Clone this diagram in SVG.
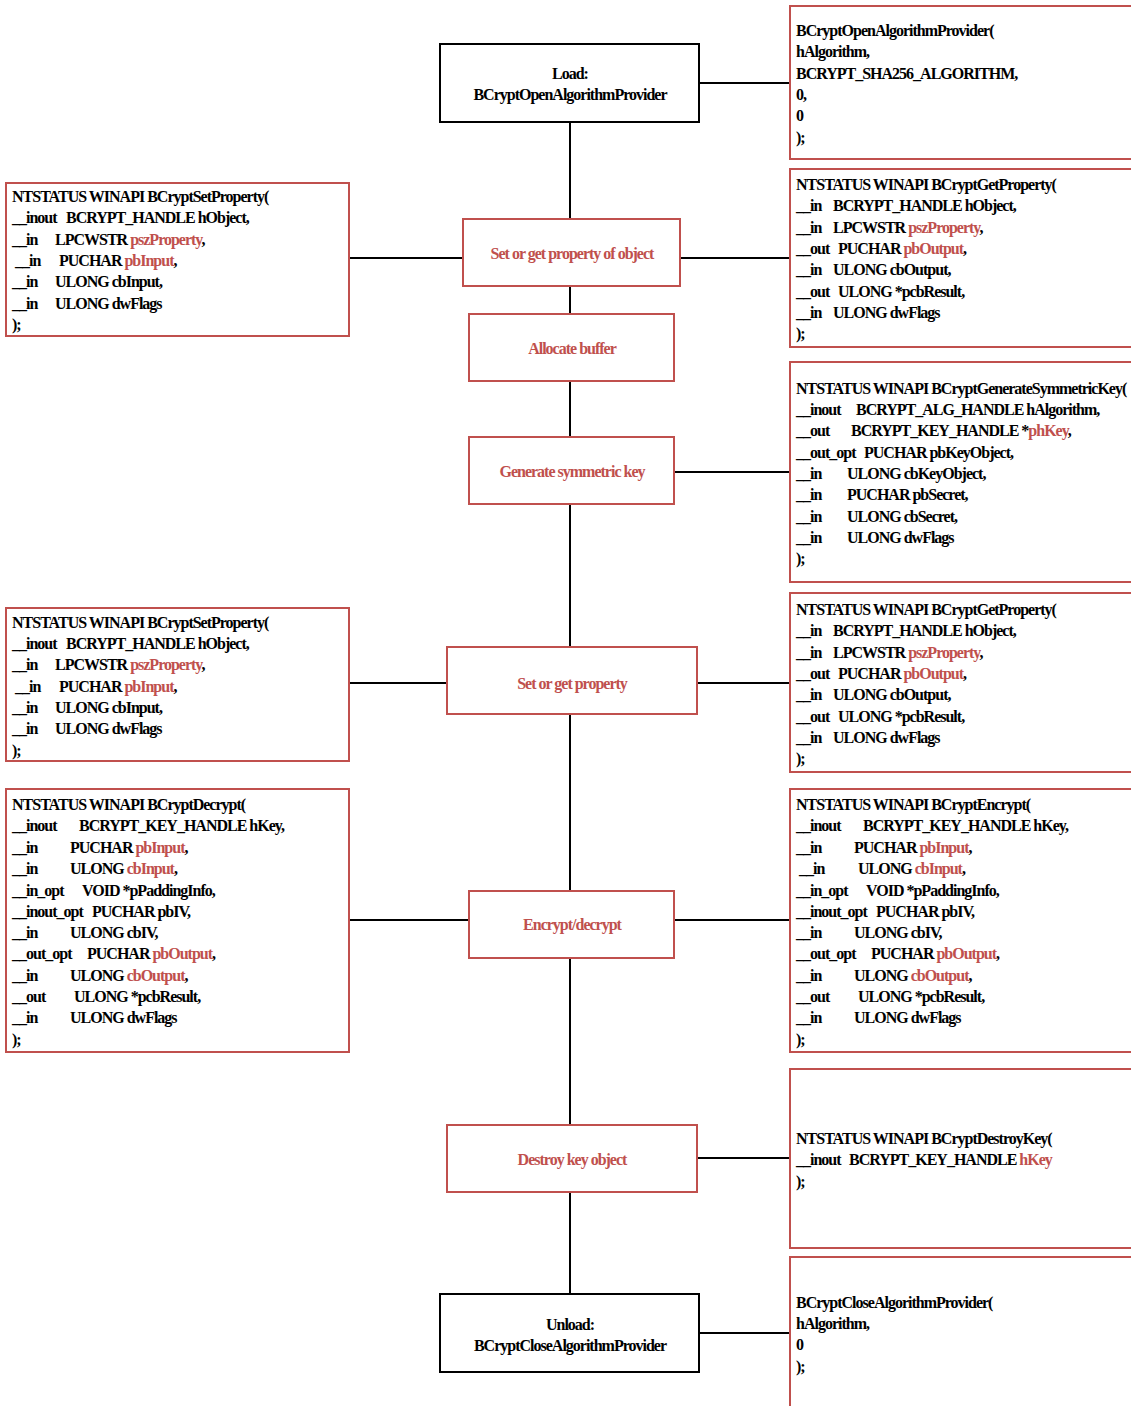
<svg xmlns="http://www.w3.org/2000/svg" width="1131" height="1406" viewBox="0 0 1131 1406">
<style>
.t{font-family:"Liberation Serif","Times New Roman",serif;font-size:16px;font-weight:bold;letter-spacing:-1px;fill:#000}
.c{text-anchor:middle}
.r{fill:#c0504d}
.rb{fill:#fff;stroke:#c0504d;stroke-width:2}
.bb{fill:#fff;stroke:#000;stroke-width:2}
.ln{stroke:#000;stroke-width:2;fill:none}
</style>
<rect width="1131" height="1406" fill="#fff"/>
<g id="connectors">
<line class="ln" x1="570" y1="122" x2="570" y2="1294"/>
<line class="ln" x1="699" y1="83" x2="790" y2="83"/>
<line class="ln" x1="349" y1="258" x2="463" y2="258"/>
<line class="ln" x1="680" y1="258" x2="790" y2="258"/>
<line class="ln" x1="674" y1="472" x2="790" y2="472"/>
<line class="ln" x1="349" y1="683" x2="447" y2="683"/>
<line class="ln" x1="697" y1="683" x2="790" y2="683"/>
<line class="ln" x1="349" y1="920" x2="469" y2="920"/>
<line class="ln" x1="674" y1="920" x2="790" y2="920"/>
<line class="ln" x1="697" y1="1158" x2="790" y2="1158"/>
<line class="ln" x1="699" y1="1333" x2="790" y2="1333"/>
</g>
<g id="load">
<rect class="bb" x="440" y="44" width="259" height="78"/>
<text class="t c" x="570" y="79">Load:</text>
<text class="t c" x="570" y="100">BCryptOpenAlgorithmProvider</text>
</g>
<g id="setget1">
<rect class="rb" x="463" y="219" width="217" height="67"/>
<text class="t c r" x="572" y="259">Set or get property of object</text>
</g>
<g id="alloc">
<rect class="rb" x="469" y="314" width="205" height="67"/>
<text class="t c r" x="572" y="354">Allocate buffer</text>
</g>
<g id="genkey">
<rect class="rb" x="469" y="437" width="205" height="67"/>
<text class="t c r" x="572" y="477">Generate symmetric key</text>
</g>
<g id="setget2">
<rect class="rb" x="447" y="647" width="250" height="67"/>
<text class="t c r" x="572" y="689">Set or get property</text>
</g>
<g id="encdec">
<rect class="rb" x="469" y="891" width="205" height="67"/>
<text class="t c r" x="572" y="930">Encrypt/decrypt</text>
</g>
<g id="destroy">
<rect class="rb" x="447" y="1125" width="250" height="67"/>
<text class="t c r" x="572" y="1165">Destroy key object</text>
</g>
<g id="unload">
<rect class="bb" x="440" y="1294" width="259" height="78"/>
<text class="t c" x="570" y="1330">Unload:</text>
<text class="t c" x="570" y="1351">BCryptCloseAlgorithmProvider</text>
</g>
<g id="open-code">
<rect class="rb" x="790" y="6" width="350" height="153"/>
<text class="t" x="796" y="36">BCryptOpenAlgorithmProvider(</text>
<text class="t" x="796" y="57">hAlgorithm,</text>
<text class="t" x="796" y="79">BCRYPT_SHA256_ALGORITHM,</text>
<text class="t" x="796" y="100">0,</text>
<text class="t" x="796" y="121">0</text>
<text class="t" x="796" y="143">);</text>
</g>
<g id="setprop-code-1">
<rect class="rb" x="6" y="183" width="343" height="153"/>
<text class="t" x="12" y="202">NTSTATUS WINAPI BCryptSetProperty(</text>
<text class="t" y="223"><tspan x="12">__inout</tspan><tspan x="66">BCRYPT_HANDLE hObject,</tspan></text>
<text class="t" y="245"><tspan x="12">__in</tspan><tspan x="55">LPCWSTR <tspan class="r">pszProperty</tspan>,</tspan></text>
<text class="t" y="266"><tspan x="15">__in</tspan><tspan x="59">PUCHAR <tspan class="r">pbInput</tspan>,</tspan></text>
<text class="t" y="287"><tspan x="12">__in</tspan><tspan x="55">ULONG cbInput,</tspan></text>
<text class="t" y="309"><tspan x="12">__in</tspan><tspan x="55">ULONG dwFlags</tspan></text>
<text class="t" x="12" y="330">);</text>
</g>
<g id="getprop-code-1">
<rect class="rb" x="790" y="169" width="350" height="178"/>
<text class="t" x="796" y="190">NTSTATUS WINAPI BCryptGetProperty(</text>
<text class="t" y="211"><tspan x="796">__in</tspan><tspan x="833">BCRYPT_HANDLE hObject,</tspan></text>
<text class="t" y="233"><tspan x="796">__in</tspan><tspan x="833">LPCWSTR <tspan class="r">pszProperty</tspan>,</tspan></text>
<text class="t" y="254"><tspan x="796">__out</tspan><tspan x="838">PUCHAR <tspan class="r">pbOutput</tspan>,</tspan></text>
<text class="t" y="275"><tspan x="796">__in</tspan><tspan x="833">ULONG cbOutput,</tspan></text>
<text class="t" y="297"><tspan x="796">__out</tspan><tspan x="838">ULONG *pcbResult,</tspan></text>
<text class="t" y="318"><tspan x="796">__in</tspan><tspan x="833">ULONG dwFlags</tspan></text>
<text class="t" x="796" y="339">);</text>
</g>
<g id="genkey-code">
<rect class="rb" x="790" y="362" width="350" height="220"/>
<text class="t" x="796" y="394">NTSTATUS WINAPI BCryptGenerateSymmetricKey(</text>
<text class="t" y="415"><tspan x="796">__inout</tspan><tspan x="856">BCRYPT_ALG_HANDLE hAlgorithm,</tspan></text>
<text class="t" y="436"><tspan x="796">__out</tspan><tspan x="851">BCRYPT_KEY_HANDLE *<tspan class="r">phKey</tspan>,</tspan></text>
<text class="t" y="458"><tspan x="796">__out_opt</tspan><tspan x="864">PUCHAR pbKeyObject,</tspan></text>
<text class="t" y="479"><tspan x="796">__in</tspan><tspan x="847">ULONG cbKeyObject,</tspan></text>
<text class="t" y="500"><tspan x="796">__in</tspan><tspan x="847">PUCHAR pbSecret,</tspan></text>
<text class="t" y="522"><tspan x="796">__in</tspan><tspan x="847">ULONG cbSecret,</tspan></text>
<text class="t" y="543"><tspan x="796">__in</tspan><tspan x="847">ULONG dwFlags</tspan></text>
<text class="t" x="796" y="564">);</text>
</g>
<g id="setprop-code-2">
<rect class="rb" x="6" y="608" width="343" height="153"/>
<text class="t" x="12" y="628">NTSTATUS WINAPI BCryptSetProperty(</text>
<text class="t" y="649"><tspan x="12">__inout</tspan><tspan x="66">BCRYPT_HANDLE hObject,</tspan></text>
<text class="t" y="670"><tspan x="12">__in</tspan><tspan x="55">LPCWSTR <tspan class="r">pszProperty</tspan>,</tspan></text>
<text class="t" y="692"><tspan x="15">__in</tspan><tspan x="59">PUCHAR <tspan class="r">pbInput</tspan>,</tspan></text>
<text class="t" y="713"><tspan x="12">__in</tspan><tspan x="55">ULONG cbInput,</tspan></text>
<text class="t" y="734"><tspan x="12">__in</tspan><tspan x="55">ULONG dwFlags</tspan></text>
<text class="t" x="12" y="756">);</text>
</g>
<g id="getprop-code-2">
<rect class="rb" x="790" y="593" width="350" height="179"/>
<text class="t" x="796" y="615">NTSTATUS WINAPI BCryptGetProperty(</text>
<text class="t" y="636"><tspan x="796">__in</tspan><tspan x="833">BCRYPT_HANDLE hObject,</tspan></text>
<text class="t" y="658"><tspan x="796">__in</tspan><tspan x="833">LPCWSTR <tspan class="r">pszProperty</tspan>,</tspan></text>
<text class="t" y="679"><tspan x="796">__out</tspan><tspan x="838">PUCHAR <tspan class="r">pbOutput</tspan>,</tspan></text>
<text class="t" y="700"><tspan x="796">__in</tspan><tspan x="833">ULONG cbOutput,</tspan></text>
<text class="t" y="722"><tspan x="796">__out</tspan><tspan x="838">ULONG *pcbResult,</tspan></text>
<text class="t" y="743"><tspan x="796">__in</tspan><tspan x="833">ULONG dwFlags</tspan></text>
<text class="t" x="796" y="764">);</text>
</g>
<g id="decrypt-code">
<rect class="rb" x="6" y="789" width="343" height="263"/>
<text class="t" x="12" y="810">NTSTATUS WINAPI BCryptDecrypt(</text>
<text class="t" y="831"><tspan x="12">__inout</tspan><tspan x="79">BCRYPT_KEY_HANDLE hKey,</tspan></text>
<text class="t" y="853"><tspan x="12">__in</tspan><tspan x="70">PUCHAR <tspan class="r">pbInput</tspan>,</tspan></text>
<text class="t" y="874"><tspan x="12">__in</tspan><tspan x="70">ULONG <tspan class="r">cbInput</tspan>,</tspan></text>
<text class="t" y="896"><tspan x="12">__in_opt</tspan><tspan x="82">VOID *pPaddingInfo,</tspan></text>
<text class="t" y="917"><tspan x="12">__inout_opt</tspan><tspan x="92">PUCHAR pbIV,</tspan></text>
<text class="t" y="938"><tspan x="12">__in</tspan><tspan x="70">ULONG cbIV,</tspan></text>
<text class="t" y="959"><tspan x="12">__out_opt</tspan><tspan x="87">PUCHAR <tspan class="r">pbOutput</tspan>,</tspan></text>
<text class="t" y="981"><tspan x="12">__in</tspan><tspan x="70">ULONG <tspan class="r">cbOutput</tspan>,</tspan></text>
<text class="t" y="1002"><tspan x="12">__out</tspan><tspan x="74">ULONG *pcbResult,</tspan></text>
<text class="t" y="1023"><tspan x="12">__in</tspan><tspan x="70">ULONG dwFlags</tspan></text>
<text class="t" x="12" y="1045">);</text>
</g>
<g id="encrypt-code">
<rect class="rb" x="790" y="789" width="350" height="263"/>
<text class="t" x="796" y="810">NTSTATUS WINAPI BCryptEncrypt(</text>
<text class="t" y="831"><tspan x="796">__inout</tspan><tspan x="863">BCRYPT_KEY_HANDLE hKey,</tspan></text>
<text class="t" y="853"><tspan x="796">__in</tspan><tspan x="854">PUCHAR <tspan class="r">pbInput</tspan>,</tspan></text>
<text class="t" y="874"><tspan x="799">__in</tspan><tspan x="858">ULONG <tspan class="r">cbInput</tspan>,</tspan></text>
<text class="t" y="896"><tspan x="796">__in_opt</tspan><tspan x="866">VOID *pPaddingInfo,</tspan></text>
<text class="t" y="917"><tspan x="796">__inout_opt</tspan><tspan x="876">PUCHAR pbIV,</tspan></text>
<text class="t" y="938"><tspan x="796">__in</tspan><tspan x="854">ULONG cbIV,</tspan></text>
<text class="t" y="959"><tspan x="796">__out_opt</tspan><tspan x="871">PUCHAR <tspan class="r">pbOutput</tspan>,</tspan></text>
<text class="t" y="981"><tspan x="796">__in</tspan><tspan x="854">ULONG <tspan class="r">cbOutput</tspan>,</tspan></text>
<text class="t" y="1002"><tspan x="796">__out</tspan><tspan x="858">ULONG *pcbResult,</tspan></text>
<text class="t" y="1023"><tspan x="796">__in</tspan><tspan x="854">ULONG dwFlags</tspan></text>
<text class="t" x="796" y="1045">);</text>
</g>
<g id="destroy-code">
<rect class="rb" x="790" y="1069" width="350" height="179"/>
<text class="t" x="796" y="1144">NTSTATUS WINAPI BCryptDestroyKey(</text>
<text class="t" y="1165"><tspan x="796">__inout</tspan><tspan x="849">BCRYPT_KEY_HANDLE <tspan class="r">hKey</tspan></tspan></text>
<text class="t" x="796" y="1187">);</text>
</g>
<g id="close-code">
<rect class="rb" x="790" y="1257" width="350" height="160"/>
<text class="t" x="796" y="1308">BCryptCloseAlgorithmProvider(</text>
<text class="t" x="796" y="1329">hAlgorithm,</text>
<text class="t" x="796" y="1350">0</text>
<text class="t" x="796" y="1372">);</text>
</g>
</svg>
